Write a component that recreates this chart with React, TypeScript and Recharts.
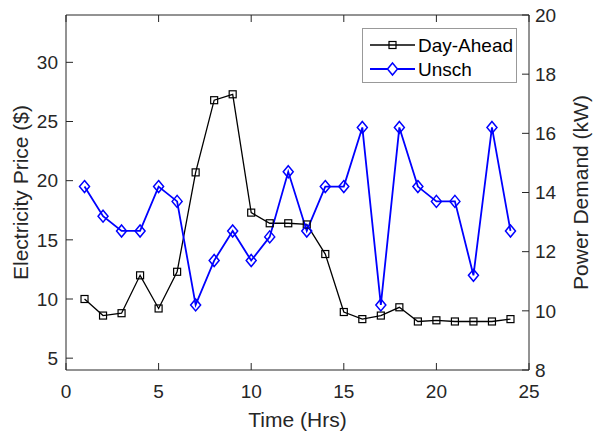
import React from "react";
import { LineChart, Line, XAxis, YAxis, Label, Legend } from "recharts";

// hours of the day
const hours = [1, 2, 3, 4, 5, 6, 7, 8, 9, 10, 11, 12, 13, 14, 15, 16, 17, 18, 19, 20, 21, 22, 23, 24];

// electricity price ($), left axis
const dayAhead = [
  10.0, 8.6, 8.8, 12.0, 9.2, 12.3, 20.7, 26.8, 27.3, 17.3, 16.4, 16.4,
  16.3, 13.8, 8.9, 8.3, 8.6, 9.3, 8.1, 8.2, 8.1, 8.1, 8.1, 8.3,
];

// power demand (kW), right axis
const unsch = [
  14.2, 13.2, 12.7, 12.7, 14.2, 13.7, 10.2, 11.7, 12.7, 11.7, 12.5, 14.7,
  12.7, 14.2, 14.2, 16.2, 10.2, 16.2, 14.2, 13.7, 13.7, 11.2, 16.2, 12.7,
];

const xTicks = [0, 5, 10, 15, 20, 25];
const priceTicks = [5, 10, 15, 20, 25, 30];
const demandTicks = [8, 10, 12, 14, 16, 18, 20];

const data = hours.map((h, i) => ({ hour: h, dayAhead: dayAhead[i], unsch: unsch[i] }));

const AXIS = "#262626";
const FONT = "'Liberation Sans', Arial, Helvetica, sans-serif";
const tickStyle = { fill: AXIS, fontSize: 19, fontFamily: FONT };
const labelStyle = { fill: AXIS, fontSize: 21, fontFamily: FONT, textAnchor: "middle" as const };

const SquareDot = (props: any) => {
  const { cx, cy, index } = props;
  if (cx == null || cy == null) return <g key={`sq-${index}`} />;
  return (
    <rect key={`sq-${index}`} x={cx - 3.5} y={cy - 3.5} width={7} height={7}
      fill="none" stroke="#000" strokeWidth={1.2} />
  );
};

const DiamondDot = (props: any) => {
  const { cx, cy, index } = props;
  if (cx == null || cy == null) return <g key={`dm-${index}`} />;
  return (
    <path key={`dm-${index}`} d={`M${cx},${cy - 6} L${cx + 5},${cy} L${cx},${cy + 6} L${cx - 5},${cy} Z`}
      fill="none" stroke="#0000ff" strokeWidth={1.5} />
  );
};

const renderLegend = () => (
  <svg width={155} height={55} style={{ display: "block" }}>
    <rect x={0.5} y={0.5} width={154} height={54} fill="#fff" stroke="#999" />
    <line x1={8} x2={53} y1={17} y2={17} stroke="#000" strokeWidth={1.3} />
    <rect x={27} y={13.5} width={7} height={7} fill="none" stroke="#000" strokeWidth={1.2} />
    <text x={56} y={17} dy="0.35em" fontSize={19} fontFamily={FONT} fill="#000">Day-Ahead</text>
    <line x1={8} x2={53} y1={41} y2={41} stroke="#0000ff" strokeWidth={1.8} />
    <path d="M30.5,35 L35.5,41 L30.5,47 L25.5,41 Z" fill="#fff" stroke="#0000ff" strokeWidth={1.5} />
    <text x={56} y={41} dy="0.35em" fontSize={19} fontFamily={FONT} fill="#000">Unsch</text>
  </svg>
);

export default function App() {
  return (
    <div style={{ position: "absolute", left: 0, top: 0, width: 593, height: 433, background: "#fff", fontFamily: FONT }}>
      <LineChart width={593} height={433} data={data} margin={{ top: 14, right: 0, bottom: 0, left: 0 }}>
        <XAxis xAxisId="bottom" dataKey="hour" type="number" domain={[0, 25]} ticks={xTicks} interval={0}
          height={63} tick={tickStyle} tickSize={-7} tickMargin={22}
          axisLine={{ stroke: AXIS }} tickLine={{ stroke: AXIS }}>
          <Label value="Time (Hrs)" position="insideBottom" offset={6} style={labelStyle} />
        </XAxis>
        <XAxis xAxisId="top" orientation="top" dataKey="hour" type="number" domain={[0, 25]} ticks={xTicks}
          interval={0} height={1} tickSize={-7} tickFormatter={() => ""}
          axisLine={{ stroke: AXIS }} tickLine={{ stroke: AXIS }} />
        <YAxis yAxisId="left" type="number" domain={[4, 34]} ticks={priceTicks} interval={0} width={66}
          tick={tickStyle} tickSize={-7} tickMargin={15}
          axisLine={{ stroke: AXIS }} tickLine={{ stroke: AXIS }}>
          <Label value="Electricity Price ($)" angle={-90} position="insideLeft" offset={21} style={labelStyle} />
        </YAxis>
        <YAxis yAxisId="right" orientation="right" type="number" domain={[8, 20]} ticks={demandTicks}
          interval={0} width={64} tick={tickStyle} tickSize={-7} tickMargin={13}
          axisLine={{ stroke: AXIS }} tickLine={{ stroke: AXIS }}>
          <Label value="Power Demand (kW)" angle={-90} position="insideRight" offset={12} style={labelStyle} />
        </YAxis>
        <Line xAxisId="bottom" yAxisId="left" dataKey="dayAhead" name="Day-Ahead" stroke="#000"
          strokeWidth={1.3} dot={SquareDot} activeDot={false} isAnimationActive={false} />
        <Line xAxisId="bottom" yAxisId="right" dataKey="unsch" name="Unsch" stroke="#0000ff"
          strokeWidth={1.8} dot={DiamondDot} activeDot={false} isAnimationActive={false} />
        <Legend layout="vertical" align="center" verticalAlign="middle" content={renderLegend}
          wrapperStyle={{ left: 362, top: 28, width: 155, height: 55 }} />
      </LineChart>
    </div>
  );
}
